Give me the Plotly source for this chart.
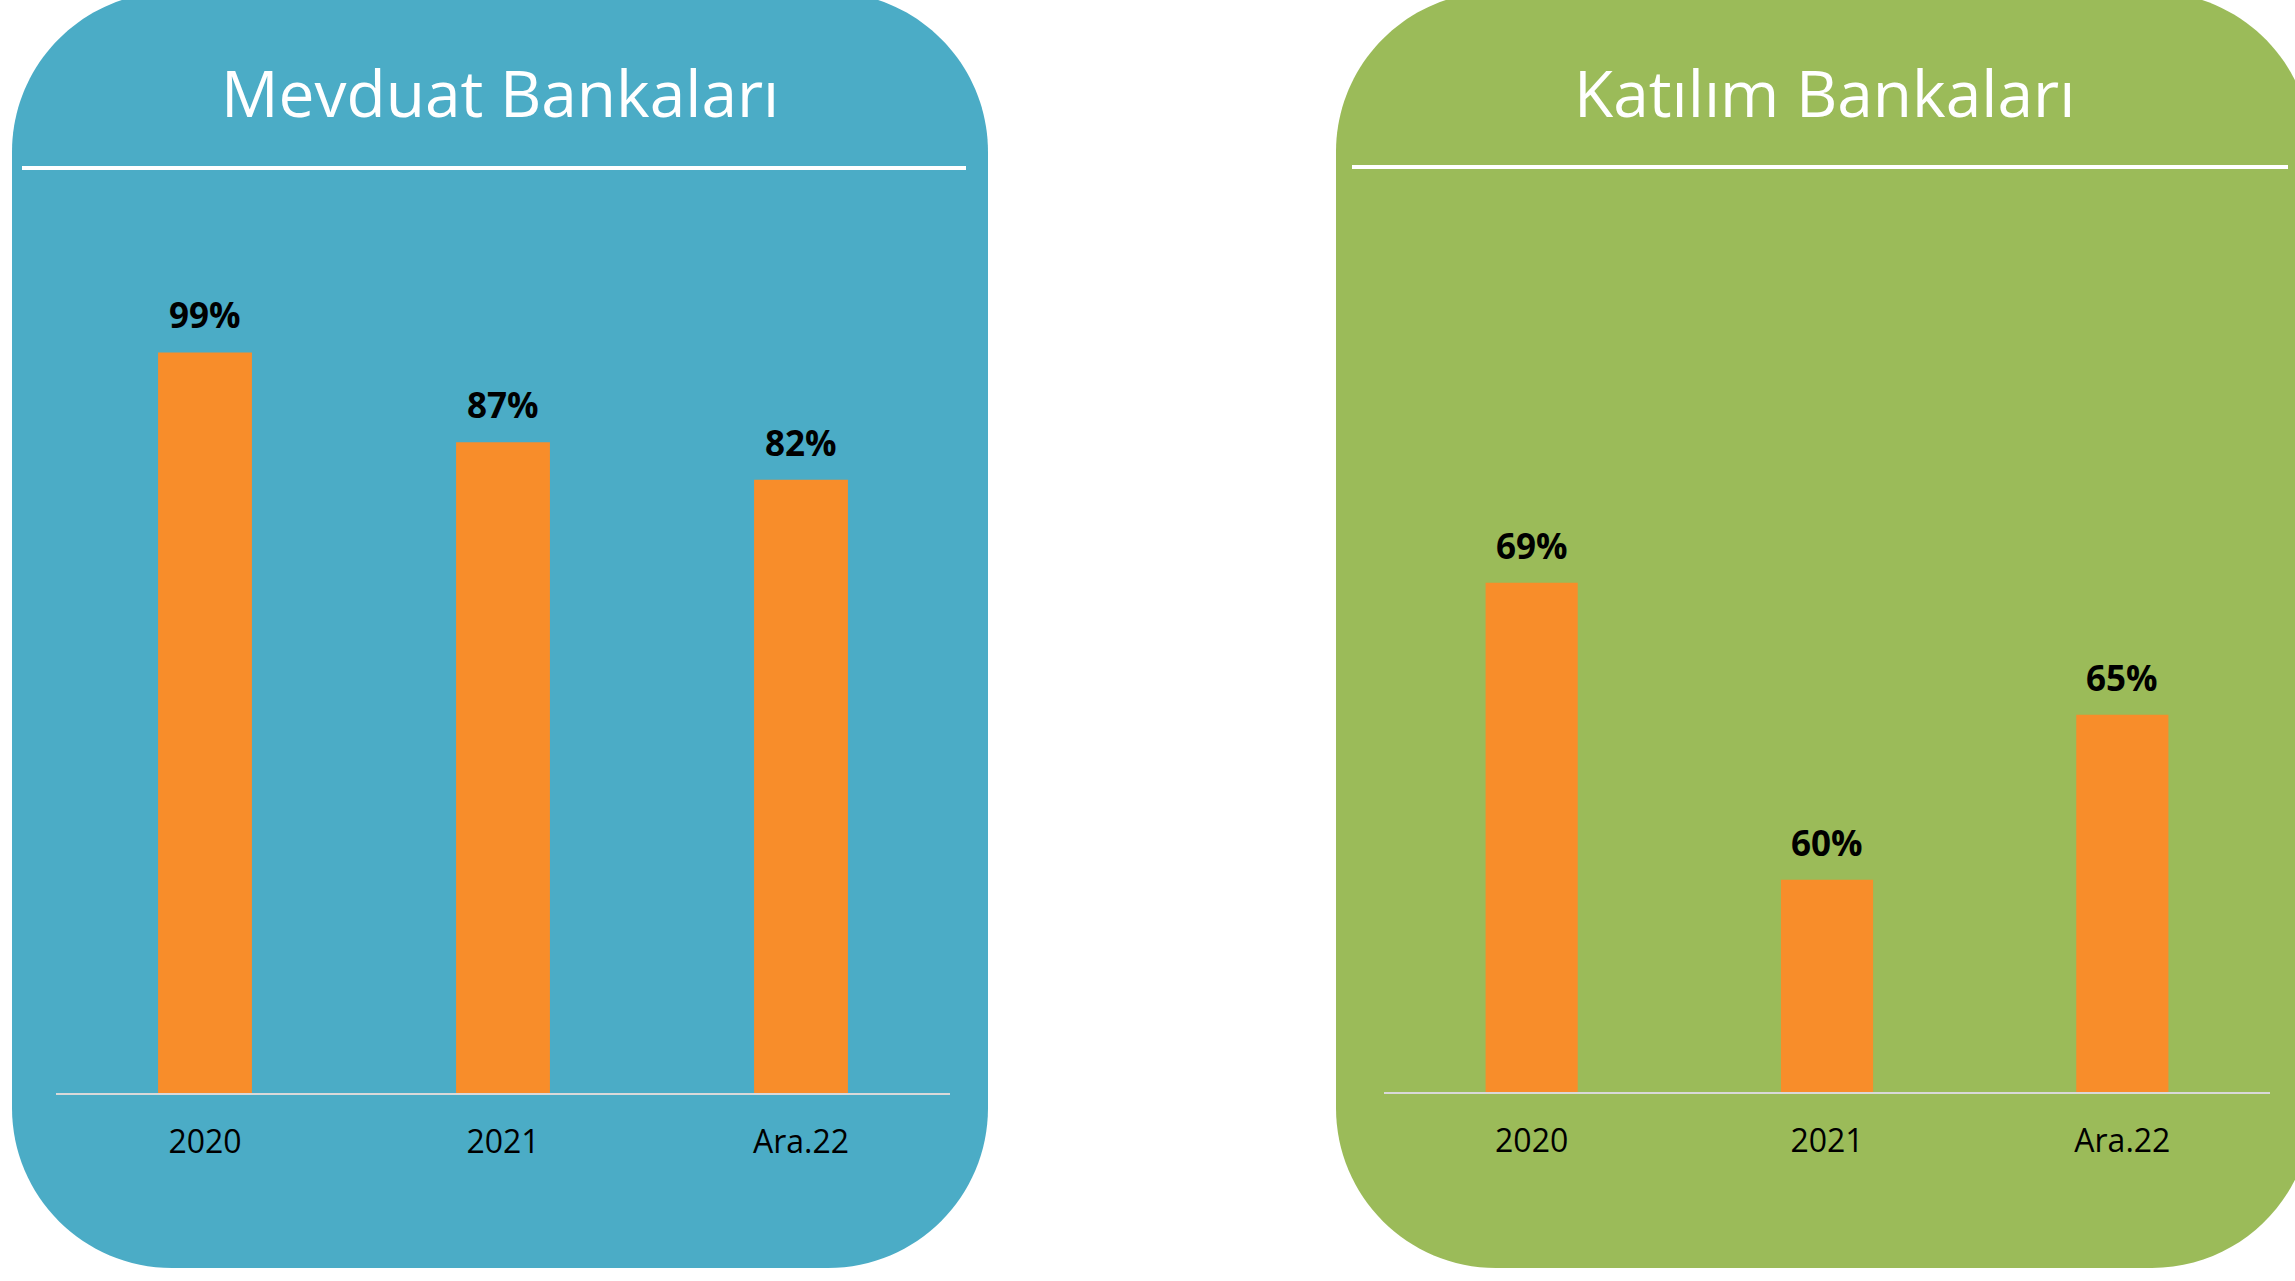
import plotly.graph_objects as go

W, H = 2295, 1281

categories = ["2020", "2021", "Ara.22"]
mevduat_values = [99, 87, 82]
katilim_values = [69, 60, 65]
titles = ["Mevduat Bankaları", "Katılım Bankaları"]

BLUE = "#4BACC6"
GREEN = "#9BBB59"
ORANGE = "#F88D2A"
FONT = "Open Sans"


def px(x):
    return x / W


def py(y):
    return 1 - y / H


def rounded_rect(x0, y0, x1, y1, r):
    k = 0.5523 * r
    pts = [
        ("M", [(x0 + r, y0)]),
        ("L", [(x1 - r, y0)]),
        ("C", [(x1 - r + k, y0), (x1, y0 + r - k), (x1, y0 + r)]),
        ("L", [(x1, y1 - r)]),
        ("C", [(x1, y1 - r + k), (x1 - r + k, y1), (x1 - r, y1)]),
        ("L", [(x0 + r, y1)]),
        ("C", [(x0 + r - k, y1), (x0, y1 - r + k), (x0, y1 - r)]),
        ("L", [(x0, y0 + r)]),
        ("C", [(x0, y0 + r - k), (x0 + r - k, y0), (x0 + r, y0)]),
    ]
    s = ""
    for cmd, ps in pts:
        s += cmd + " " + " ".join(f"{px(a):.6f},{py(b):.6f}" for a, b in ps) + " "
    return s + "Z"


fig = go.Figure()

fig.add_trace(go.Bar(x=categories, y=mevduat_values, xaxis="x", yaxis="y",
                     marker=dict(color=ORANGE, line=dict(width=0)), width=0.315,
                     hoverinfo="x+y", showlegend=False))
fig.add_trace(go.Bar(x=categories, y=katilim_values, xaxis="x2", yaxis="y2",
                     marker=dict(color=ORANGE, line=dict(width=0)), width=0.312,
                     hoverinfo="x+y", showlegend=False))

shapes = [
    dict(type="path", xref="paper", yref="paper", path=rounded_rect(12, -8, 988, 1268, 160),
         fillcolor=BLUE, line=dict(width=0), layer="below"),
    dict(type="path", xref="paper", yref="paper", path=rounded_rect(1336, -8, 2312, 1268, 160),
         fillcolor=GREEN, line=dict(width=0), layer="below"),
    dict(type="line", xref="paper", yref="paper", x0=px(22), x1=px(966), y0=py(168), y1=py(168),
         line=dict(color="white", width=4), layer="below"),
    dict(type="line", xref="paper", yref="paper", x0=px(1352), x1=px(2288), y0=py(167), y1=py(167),
         line=dict(color="white", width=4), layer="below"),
]

annotations = [
    dict(text=titles[0], x=px(500), y=py(93), xref="paper", yref="paper", showarrow=False,
         xanchor="center", yanchor="middle", font=dict(family=FONT, size=64, color="white")),
    dict(text=titles[1], x=px(1824), y=py(93), xref="paper", yref="paper", showarrow=False,
         xanchor="center", yanchor="middle", font=dict(family=FONT, size=64, color="white")),
]
for ax, vals in (("", mevduat_values), ("2", katilim_values)):
    for i, v in enumerate(vals):
        annotations.append(dict(text=f"<b>{v}%</b>", x=i, y=v, xref="x" + ax, yref="y" + ax,
                                showarrow=False, xanchor="center", yanchor="bottom", yshift=12,
                                font=dict(family=FONT, size=35, color="black")))

y_top_px = 200
blue_bottom_px, green_bottom_px = 1093, 1092
blue_min, blue_scale = 0.0, 7.48
green_min, green_scale = 53.57, 33.0

xaxis_common = dict(type="category", categoryorder="array", categoryarray=categories,
                    range=[-0.5, 2.5], autorange=False,
                    showgrid=False, zeroline=False, showline=True,
                    linecolor="#D9D9D9", linewidth=2, ticks="outside", ticklen=20,
                    tickcolor="rgba(0,0,0,0)", tickfont=dict(family=FONT, size=32, color="black"),
                    fixedrange=True)
yaxis_common = dict(visible=False, showgrid=False, zeroline=False, fixedrange=True,
                    autorange=False)

fig.update_layout(
    width=W, height=H,
    margin=dict(l=0, r=0, t=0, b=0),
    paper_bgcolor="white", plot_bgcolor="rgba(0,0,0,0)",
    shapes=shapes, annotations=annotations,
    xaxis=dict(domain=[px(56), px(950)], anchor="y", **xaxis_common),
    xaxis2=dict(domain=[px(1384), px(2270)], anchor="y2", **xaxis_common),
    yaxis=dict(domain=[py(blue_bottom_px), py(y_top_px)], anchor="x",
               range=[blue_min, blue_min + (blue_bottom_px - y_top_px) / blue_scale], **yaxis_common),
    yaxis2=dict(domain=[py(green_bottom_px), py(y_top_px)], anchor="x2",
                range=[green_min, green_min + (green_bottom_px - y_top_px) / green_scale], **yaxis_common),
    showlegend=False,
)

fig.write_html("out.html", config={"displayModeBar": False},
               post_script="document.body.style.margin='0';document.body.style.overflow='hidden';")
